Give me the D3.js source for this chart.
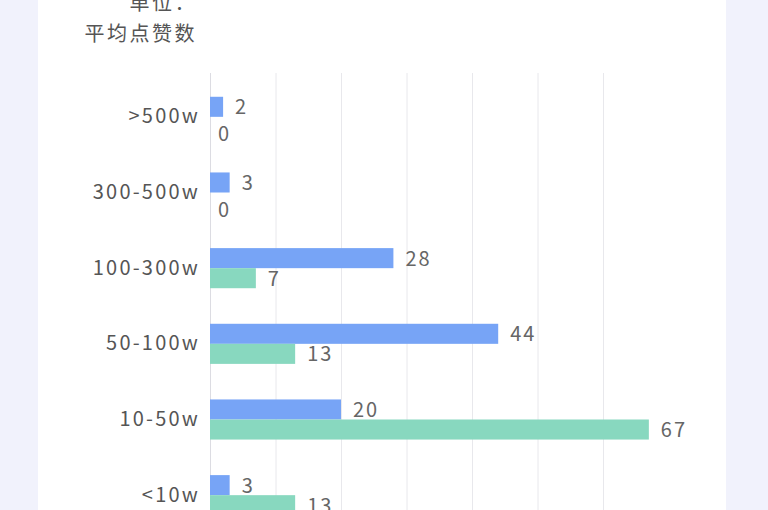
<!DOCTYPE html>
<meta charset="utf-8">
<body style="margin:0;background:#f1f2fc;">
  <style>
    svg { display: block; }
    text { font-family: "Noto Sans CJK SC", "Noto Sans", sans-serif; }
  </style>
  <div id="box"></div>
  <script src="https://d3js.org/d3.v7.min.js"></script>
  <script>
    // categories top to bottom
    var categories = [">500w", "300-500w", "100-300w", "50-100w", "10-50w", "<10w"];
    var seriesA = [2, 3, 28, 44, 20, 3];   // blue
    var seriesB = [0, 0, 7, 13, 67, 13];   // green
    var xTicks = [0, 10, 20, 30, 40, 50, 60];
    var titleLines = ["单位：", "平均点赞数"];

    var W = 768, H = 510;
    var svg = d3.select("#box").append("svg")
      .attr("width", W)
      .attr("height", H);

    // white card
    svg.append("rect")
      .attr("x", 38).attr("y", 0)
      .attr("width", 688).attr("height", H)
      .attr("fill", "#fff");

    var x = d3.scaleLinear().domain([0, 60]).range([210, 603]);

    var y0 = d3.scaleBand()
      .domain(categories)
      .range([79, 533])
      .paddingInner(0.47)
      .paddingOuter(0.235);

    var y1 = d3.scaleBand()
      .domain(["a", "b"])
      .range([0, y0.bandwidth()]);

    // grid lines
    var grid = svg.append("g")
      .attr("transform", "translate(0,73)")
      .call(d3.axisBottom(x).tickValues(xTicks).tickSize(H - 73).tickFormat(""));
    grid.select(".domain").remove();
    grid.selectAll(".tick line").attr("stroke", "#e8e8ec").attr("stroke-width", 1);
    grid.selectAll(".tick").filter(function(d) { return d === 0; })
      .select("line").attr("stroke", "#dcdce2");

    // title
    svg.append("g").selectAll("text")
      .data(titleLines)
      .enter().append("text")
      .attr("x", 197)
      .attr("y", function(d, i) { return 10 + i * 31; })
      .attr("text-anchor", "end")
      .attr("fill", "#555")
      .style("font-size", "20px")
      .style("letter-spacing", "2.5px")
      .text(function(d) { return d; });

    // category labels
    var yAxis = svg.append("g")
      .attr("transform", "translate(210,0)")
      .call(d3.axisLeft(y0).tickSize(0).tickPadding(10));
    yAxis.select(".domain").remove();
    yAxis.selectAll("text")
      .attr("fill", "#555")
      .style("font-size", "20px")
      .style("letter-spacing", "2.2px")
      .style("font-family", "\"Noto Sans CJK SC\", sans-serif");

    var rows = categories.map(function(c, i) {
      return { cat: c, vals: [
        { key: "a", v: seriesA[i], color: "#77a4f6" },
        { key: "b", v: seriesB[i], color: "#88d8bf" }
      ] };
    });

    var groups = svg.append("g").selectAll("g")
      .data(rows)
      .enter().append("g")
      .attr("transform", function(d) { return "translate(0," + y0(d.cat) + ")"; });

    groups.selectAll("rect")
      .data(function(d) { return d.vals; })
      .enter().append("rect")
      .attr("x", x(0))
      .attr("y", function(d) { return y1(d.key); })
      .attr("width", function(d) { return x(d.v) - x(0); })
      .attr("height", y1.bandwidth())
      .attr("fill", function(d) { return d.color; });

    groups.selectAll("text.val")
      .data(function(d) { return d.vals; })
      .enter().append("text")
      .attr("class", "val")
      .attr("x", function(d) { return x(d.v) + (d.v === 0 ? 8 : 12); })
      .attr("y", function(d) { return y1(d.key) + y1.bandwidth() / 2 + (d.v === 0 ? 9 : 2); })
      .attr("dominant-baseline", "middle")
      .attr("fill", "#666")
      .style("font-size", "20px")
      .style("letter-spacing", "2px")
      .text(function(d) { return d.v; });
  </script>
</body>
